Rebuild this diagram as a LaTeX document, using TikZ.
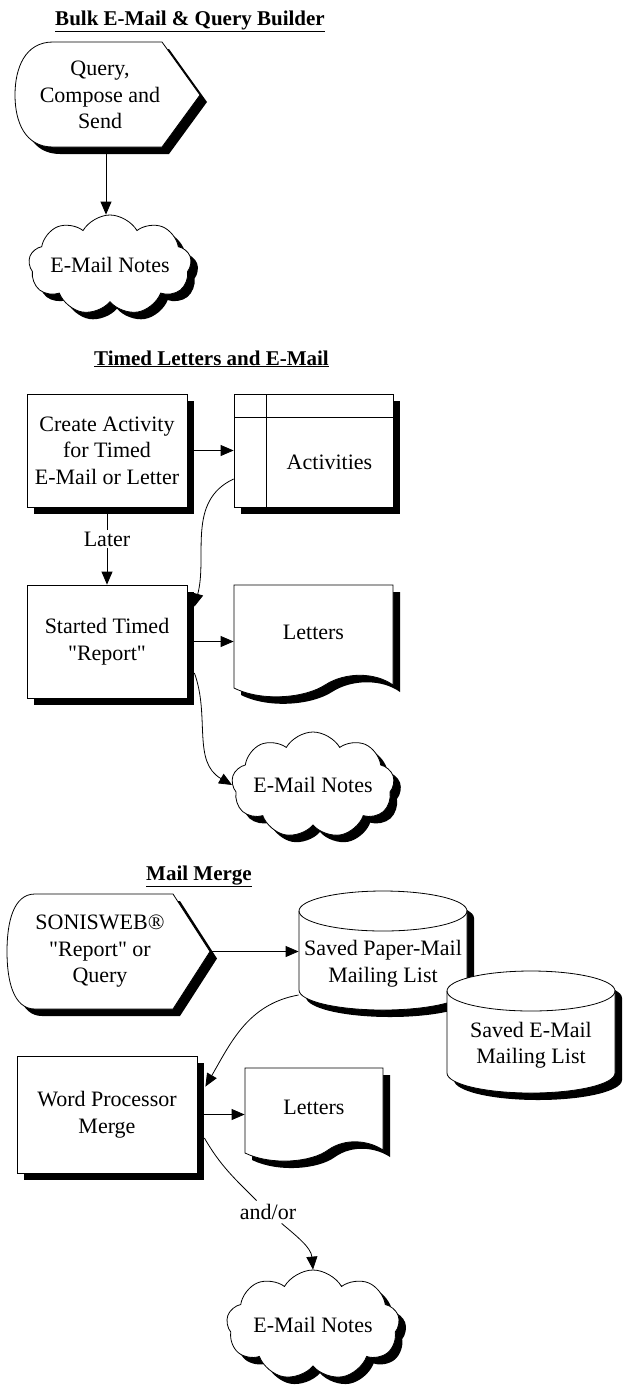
\documentclass[tikz,border=0pt]{standalone}
\usepackage{fontspec}
\setmainfont{Liberation Serif}[Ligatures=TeXOff]
\usetikzlibrary{arrows.meta,shapes.symbols,shadows}
\newcommand\shadowed[1]{\fill[shift={(7,7)}] #1; \filldraw[fill=white] #1;}

\begin{document}
\begin{tikzpicture}[x=1pt,y=-1pt,line width=0.8pt,>={Triangle[length=13pt,width=11pt]},
    font=\fontsize{22}{26.5}\selectfont]
    \tikzstyle{dropped}=[drop shadow={shadow xshift=7pt,shadow yshift=-7pt,fill=black,opacity=1}]
    \tikzstyle{box}=[draw,fill=white,dropped,align=center,inner sep=0pt]
    \tikzstyle{txt}=[align=center,inner sep=0pt]
    \tikzstyle{mail}=[box,cloud,cloud puffs=9,cloud puff arc=120,cloud ignores aspect]
    \tikzstyle{tbl}=[box,path picture={
        \draw ([xshift=32pt]path picture bounding box.north west) -- ([xshift=32pt]path picture bounding box.south west);
        \draw ([yshift=-23pt]path picture bounding box.north west) -- ([yshift=-23pt]path picture bounding box.north east);
        \node[xshift=16pt,yshift=-11.5pt] at (path picture bounding box.center) {Activities};}]
    \tikzstyle{lbl}=[fill=white,inner sep=2pt]
    \tikzstyle{heading}=[font=\fontsize{21}{26}\selectfont\bfseries,anchor=base]

    \useasboundingbox (0,0) rectangle (623,1395);

    % Bulk E-Mail & Query Builder
    \node[heading] (t1) at (190,25) {\underline{Bulk E-Mail \& Query Builder}};
    \shadowed{(53,42) -- (162,42) -- (200,95) -- (162,147) -- (53,147) .. controls (25,147) and (15,122) .. (15,95) .. controls (15,68) and (25,42) .. (53,42) -- cycle}
    \node[txt,minimum width=200pt,minimum height=105pt] (q) at (100,95) {Query,\\Compose and\\Send};
    \node[mail,minimum width=154pt,minimum height=100pt] (mail1) at (110,265) {E-Mail Notes};

    % Timed Letters and E-Mail
    \node[heading] (t2) at (211.5,365) {\underline{Timed Letters and E-Mail}};
    \node[box,minimum width=160pt,minimum height=113pt] (acta) at (107,450.5) {Create Activity\\for Timed\\E-Mail or Letter};
    \node[tbl,minimum width=159pt,minimum height=113pt] (act) at (313.5,450.5) {};
    \node[box,minimum width=160pt,minimum height=113pt] (start) at (107,641.5) {Started Timed\\"Report"};
    \shadowed{(234,585) -- (393,585) -- (393,685) .. controls (375,672) and (345,672) .. (325,685) .. controls (305,698) and (262,702) .. (234,688) -- cycle}
    \node[txt,minimum width=159pt] (let1) at (313.5,632) {Letters};
    \node[mail,minimum width=160pt,minimum height=106pt] (mail2) at (313,785) {E-Mail Notes};

    % Mail Merge
    \node[heading] (t3) at (199,880) {\underline{Mail Merge}};
    \shadowed{(35,894) -- (173,894) -- (210,951.5) -- (173,1009) -- (35,1009) .. controls (13,1009) and (7,980) .. (7,951.5) .. controls (7,923) and (13,894) .. (35,894) -- cycle}
    \node[txt,minimum width=220pt,minimum height=115pt] (sw) at (100,951.5) {SONISWEB®\\"Report" or\\Query};
    \shadowed{(299,911) -- (299,990) arc[start angle=180,end angle=0,x radius=84,y radius=20] -- (467,911) arc[start angle=0,end angle=-180,x radius=84,y radius=20] -- cycle}
    \draw (299,911) arc[start angle=180,end angle=0,x radius=84,y radius=20];
    \node[txt,minimum width=168pt] (paper) at (383,963.5) {Saved Paper-Mail\\Mailing List};
    \shadowed{(447,991) -- (447,1073) arc[start angle=180,end angle=0,x radius=84,y radius=20] -- (615,991) arc[start angle=0,end angle=-180,x radius=84,y radius=20] -- cycle}
    \draw (447,991) arc[start angle=180,end angle=0,x radius=84,y radius=20];
    \node[txt,minimum width=168pt] (elist) at (531,1045) {Saved E-Mail\\Mailing List};
    \node[box,minimum width=180pt,minimum height=117pt] (wp) at (107,1114.5) {Word Processor\\Merge};
    \shadowed{(245,1068) -- (383,1068) -- (383,1150) .. controls (368,1140) and (345,1138) .. (328,1150) .. controls (312,1162) and (272,1166) .. (245,1153) -- cycle}
    \node[txt,minimum width=138pt] (let3) at (314,1107) {Letters};
    \node (andor) at (268,1212) {and/or};
    \node[mail,minimum width=173pt,minimum height=110pt] (mail3) at (313,1325) {E-Mail Notes};

    \path[->]
     ([xshift=6pt]q.south) edge ([xshift=6pt]q.south |- mail1.north)
     (acta) edge (act)
     (acta) edge node[lbl,pos=0.41] {Later} (start)
     ([yshift=-28.5pt]act.west) edge[out=205,in=75] ([xshift=7pt,yshift=-22pt]start.north east)
     (start) edge (start -| let1.west)
     ([xshift=7pt,yshift=-31.5pt]start.east) edge[out=-70,in=150] (mail2.west)
     (sw) edge (sw -| paper.west)
     ([yshift=-31.5pt]paper.west) edge[out=190,in=60] ([xshift=8pt,yshift=-31pt]wp.north east)
     (wp) edge (wp -| let3.west)
     ([xshift=7pt,yshift=-23.5pt]wp.east) edge[-,out=-60,in=135] (andor)
     (andor) edge[out=-40,in=95] (mail3.north)
     ;
\end{tikzpicture}
\end{document}
